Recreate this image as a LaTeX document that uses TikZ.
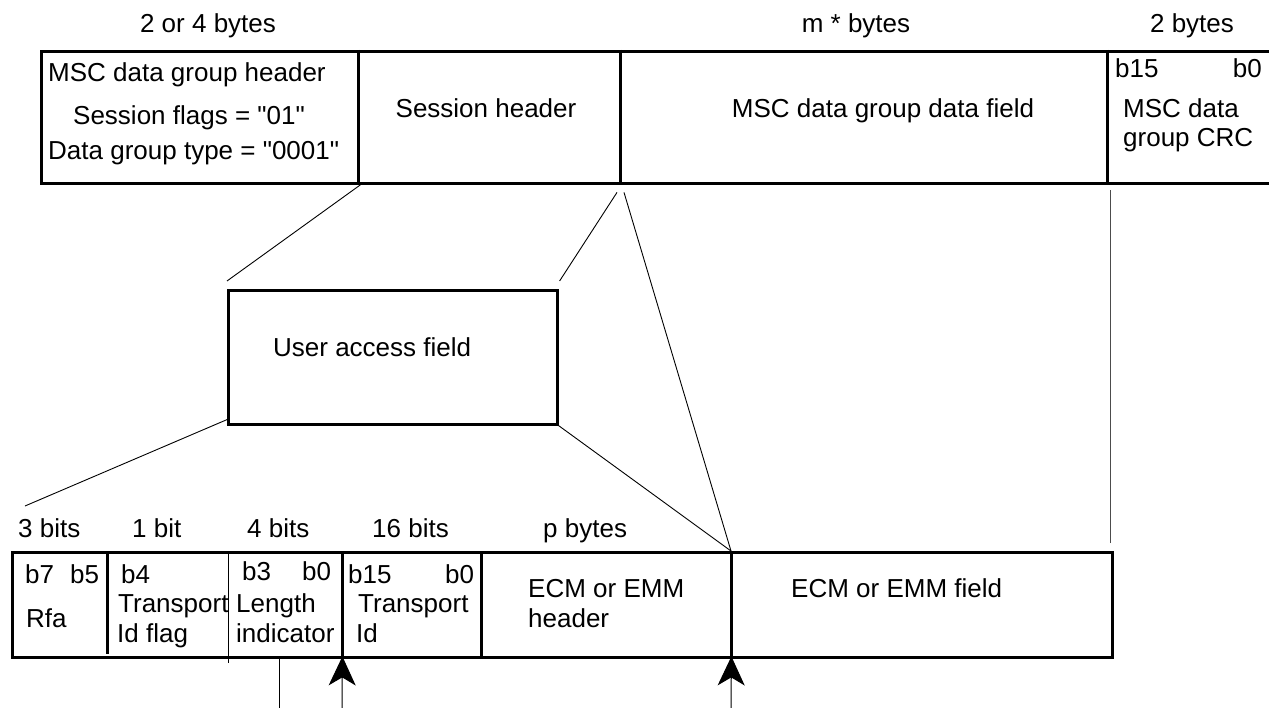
\documentclass[tikz,border=0pt]{standalone}
\usepackage{fontspec}
\setmainfont{Liberation Sans}[Ligatures=TeXOff]
\usetikzlibrary{calc,arrows.meta}
\newcommand{\myfs}{\fontsize{26}{31}\selectfont}
\begin{document}
\begin{tikzpicture}[x=1pt,y=-1pt,
  box/.style={draw, line width=2.6pt, inner sep=0pt, anchor=north west},
  cellarea/.style={inner sep=0pt, anchor=north west},
  divider/.style={line width=2.6pt},
  thindiv/.style={line width=1pt},
  conn/.style={line width=0.9pt},
  arr/.style={line width=1pt, -{Stealth[length=29pt,width=27pt,inset=8pt]}},
  lbl/.style={inner sep=0pt, anchor=base west, font=\myfs},
  rlbl/.style={inner sep=0pt, anchor=base east, font=\myfs},
  clbl/.style={inner sep=0pt, anchor=base, font=\myfs}]
\useasboundingbox[fill=white] (0,0) rectangle (1269,708);

% ---- top frame ----
\node[box, minimum width=1300pt, minimum height=132pt] (topbox) at (40,50) {};
\node[cellarea, minimum width=318pt, minimum height=132pt] (hdr) at (40,50) {};
\node[cellarea, minimum width=262pt, minimum height=132pt] (sess) at (358,50) {};
\node[cellarea, minimum width=487pt, minimum height=132pt] (dat) at (620,50) {};
\node[cellarea, minimum width=200pt, minimum height=132pt] (crc) at (1107,50) {};
\draw[divider] (hdr.north east) -- (hdr.south east);
\draw[divider] (sess.north east) -- (sess.south east);
\draw[divider] (dat.north east) -- (dat.south east);

\node[clbl] (l24) at (208,33) {2 or 4 bytes};
\node[clbl] (lm) at (856,33) {m * bytes};
\node[clbl] (l2) at (1192,33) {2 bytes};

\node[lbl] (h1) at (48,82) {MSC data group header};
\node[lbl] (h2) at (73,125) {Session flags = "01"};
\node[lbl] (h3) at (48,160) {Data group type = "0001"};
\node[clbl] (sh) at (486,118) {Session header};
\node[clbl] (df) at (883,118) {MSC data group data field};
\node[lbl] (cb15) at (1115,78) {b15};
\node[rlbl] (cb0) at (1262,78) {b0};
\node[lbl] (cr1) at (1123,118) {MSC data};
\node[lbl] (cr2) at (1123,147) {group CRC};

% ---- user access field ----
\node[box, minimum width=329pt, minimum height=134pt] (uaf) at (227,289) {};
\node[lbl] (ut) at (273,357) {User access field};

% ---- bottom frame ----
\node[box, minimum width=1100pt, minimum height=105pt] (botbox) at (11,551) {};
\node[cellarea, minimum width=96pt, minimum height=105pt] (c1) at (11,551) {};
\node[cellarea, minimum width=121pt, minimum height=105pt] (c2) at (107,551) {};
\node[cellarea, minimum width=114pt, minimum height=105pt] (c3) at (228,551) {};
\node[cellarea, minimum width=139pt, minimum height=105pt] (c4) at (342,551) {};
\node[cellarea, minimum width=250pt, minimum height=105pt] (c5) at (481,551) {};
\node[cellarea, minimum width=380pt, minimum height=105pt] (c6) at (731,551) {};
\draw[divider] (c1.north east) -- ($(c1.south east)+(0,-2)$);
\draw[thindiv] (c2.north east) -- ++(0,112);
\draw[divider] (c3.north east) -- (c3.south east);
\draw[divider] (c4.north east) -- (c4.south east);
\draw[divider] (c5.north east) -- (c5.south east);

\node[lbl] (b3b) at (18,537) {3 bits};
\node[lbl] (b1b) at (132,537) {1 bit};
\node[lbl] (b4b) at (247,537) {4 bits};
\node[lbl] (b16b) at (372,537) {16 bits};
\node[lbl] (bpb) at (543,537) {p bytes};

\node[lbl] (r7) at (25,583) {b7};
\node[lbl] (r5) at (70,583) {b5};
\node[lbl] (rfa) at (26,627) {Rfa};
\node[lbl] (t4) at (121,583) {b4};
\node[lbl] (t41) at (118,612) {Transport};
\node[lbl] (t42) at (117,642) {Id flag};
\node[lbl] (lb3) at (242,580) {b3};
\node[lbl] (lb0) at (302,580) {b0};
\node[lbl] (li1) at (236,612) {Length};
\node[lbl] (li2) at (236,642) {indicator};
\node[lbl] (tb15) at (348,583) {b15};
\node[lbl] (tb0) at (445,583) {b0};
\node[lbl] (ti1) at (358,612) {Transport};
\node[lbl] (ti2) at (356,642) {Id};
\node[lbl] (eh1) at (528,597) {ECM or EMM};
\node[lbl] (eh2) at (528,627) {header};
\node[lbl] (ef) at (791,597) {ECM or EMM field};

% ---- connectors ----
\coordinate (u1) at ($(uaf.north west)+(0,-8)$);
\draw[conn] ($(sess.south west)+(3,2)$) -- (u1);
\coordinate (s2) at ($(dat.south west)+(-3,10)$);
\coordinate (u2) at ($(uaf.north east)+(1,-8)$);
\draw[conn] (s2) -- (u2);
\coordinate (s3) at ($(dat.south west)+(4,10)$);
\draw[conn] (s3) -- (c6.north west);
\coordinate (v1) at ($(c6.north east)+(-1,-8)$);
\coordinate (v2) at ($(crc.south west)+(3,8)$);
\draw[conn, line width=1.2pt, black!70] (v1) -- (v1 |- v2);
\coordinate (f1) at (25,506);
\draw[conn] ($(uaf.south west)+(0,-6)$) -- (f1);
\draw[conn] (uaf.south east) -- (c6.north west);

% ---- lines and arrows below ----
\coordinate (lowline) at (279,712);
\draw[conn] (lowline |- c3.south) -- (lowline);
\coordinate (a1) at (342,712);
\draw[arr] (a1) -- (c3.south east);
\coordinate (a2) at (731,712);
\draw[arr] (a2) -- (c5.south east);
\end{tikzpicture}
\end{document}
